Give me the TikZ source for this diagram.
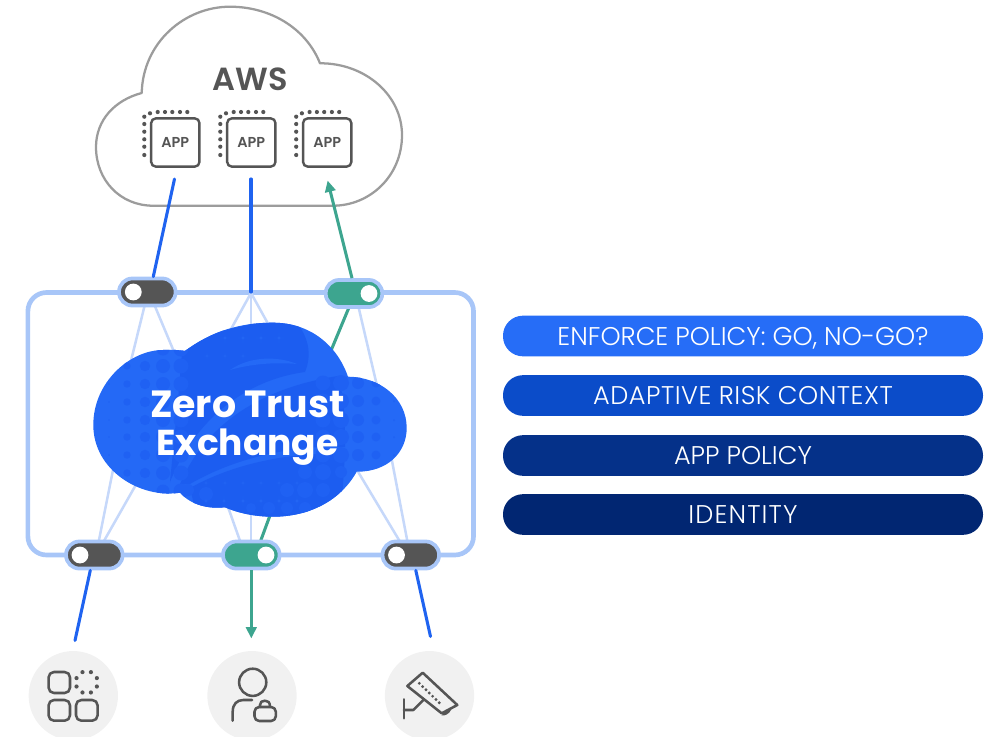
\documentclass[tikz,border=0pt]{standalone}
\usepackage{fontspec}
\setmainfont{Poppins}
\newfontfamily\poplight{Poppins Light}
\newfontfamily\popsemi{Poppins SemiBold}
\usetikzlibrary{arrows.meta,calc}
\definecolor{zblue}{HTML}{1F63F0}
\definecolor{zbluelight}{HTML}{2469F6}
\definecolor{zbluedark}{HTML}{1C5DF0}
\definecolor{zdot}{HTML}{1F61F3}
\definecolor{zstar}{HTML}{2366F4}
\definecolor{zframe}{HTML}{A8C6F8}
\definecolor{zfan}{HTML}{C6D8FA}
\definecolor{zgreen}{HTML}{3DA58F}
\definecolor{zgrey}{HTML}{555555}
\definecolor{zcloud}{HTML}{9C9C9C}
\definecolor{zcirc}{HTML}{F1F1F1}
\definecolor{barA}{HTML}{266DF7}
\definecolor{barB}{HTML}{0B4CC9}
\definecolor{barC}{HTML}{053189}
\definecolor{barD}{HTML}{012672}
\tikzset{
  x=0.75pt,y=-0.75pt,
  bar/.style={rounded corners=15pt,minimum width=360pt,minimum height=30.5pt,inner sep=0pt,text=white,font=\poplight\fontsize{19.2}{20}\selectfont,anchor=center},
  appbox/.style={draw=zgrey,line width=1.8pt,rounded corners=3.5pt,minimum size=36.2pt,inner sep=0pt,text=zgrey,font=\popsemi\fontsize{10.8}{11}\selectfont,fill=white},
  fan/.style={draw=zfan,line width=1.9pt},
  bluelink/.style={draw=zblue,line width=2.3pt,line cap=round},
  greenlink/.style={draw=zgreen,line width=2.3pt},
  greentip/.style={-{Triangle[length=8.5pt,width=7.8pt]}},
  iconline/.style={draw=zgrey,line width=1.9pt,line cap=round,line join=round},
  switchbody/.style={rounded corners=10pt,minimum width=42.4pt,minimum height=20.3pt,inner sep=0pt,draw=zframe,line width=2.8pt},
  knob/.style={circle,fill=white,minimum size=12.6pt,inner sep=0pt},
  iconcirc/.style={circle,fill=zcirc,minimum size=67pt,inner sep=0pt},
}
\newcommand{\bluecloud}{(185,351)
  .. controls (212,331) and (240,322.7) .. (273,322.7)
  .. controls (310,322.7) and (337,345) .. (348,376.7)
  .. controls (380,377) and (406.7,398) .. (406.7,428)
  .. controls (406.7,452) and (388,472) .. (356.7,471.7)
  .. controls (341,500) and (310,516.7) .. (273,516.7)
  .. controls (255,516.7) and (238,513) .. (225,507.3)
  .. controls (210,509) and (192,506) .. (180,492.7)
  .. controls (140,499) and (93.3,470) .. (93.3,425)
  .. controls (93.3,382) and (130,350) .. (163,350)
  .. controls (172,349.5) and (179,350) .. (185,351) -- cycle}
\newcommand{\zstarat}[3]{\fill[zstar] (#1-#3,#2) .. controls (#1,#2) .. (#1,#2-#3) .. controls (#1,#2) .. (#1+#3,#2) .. controls (#1,#2) .. (#1,#2+#3) .. controls (#1,#2) .. cycle;}
\newcommand{\barlabel}[2][0]{\raisebox{0pt}[14.2pt][0pt]{\addfontfeature{LetterSpace=#1}#2}}
\begin{document}
\begin{tikzpicture}
\useasboundingbox (0,0) rectangle (986,736);
\coordinate (tc) at (251,292);
% AWS cloud
\draw[zcloud,line width=1.7pt,line join=round,fill=white]
  (141.7,93) .. controls (143,42) and (185,6.7) .. (230,6.7)
  .. controls (270,6.7) and (306,28) .. (320,63.3)
  .. controls (365,63) and (402,95) .. (402,135)
  .. controls (402,176) and (370,205.7) .. (333,205.7)
  -- (153,205.7)
  .. controls (120,205.7) and (96,180) .. (96,147)
  .. controls (96,120) and (115,100) .. (141.7,93) -- cycle;
\node[text=zgrey,font=\popsemi\fontsize{24}{24}\selectfont] (aws) at (250,79) {AWS};
% apps
\foreach \n/\cx in {a/175.3,b/251.3,c/327.2}{
  \foreach \yy in {116.7,124,131.7,139.3,146.7,155}{
    \fill[zgrey] (\cx-31,\yy) circle[radius=2.1];
  }
  \foreach \xx in {-17.6,-10.3,-3,4.7,12}{
    \fill[zgrey] (\cx+\xx,112) circle[radius=2.1];
  }
  \fill[zgrey] (\cx-25.3,113.3) circle[radius=2.1];
  \node[appbox] (app\n) at (\cx,142.5) {APP};
}
% frame
\draw[zframe,line width=3.5pt,rounded corners=14pt] (27.9,292.5) rectangle (473.5,555);
% fans
\draw[fan] (148,292) -- (125,385);
\draw[fan] (149,292) -- (190,390);
\draw[fan] (251,293) -- (215,358);
\draw[fan] (251,293) -- (251,350);
\draw[fan] (251,293) -- (287,358);
\draw[fan] (355,292) -- (385,420);
\draw[fan] (96,555) -- (118,445);
\draw[fan] (96,555) -- (150,460);
\draw[fan] (245,555) -- (222,490);
\draw[fan] (251,555) -- (251,490);
\draw[fan] (410,555) -- (388,440);
\draw[fan] (408,555) -- (345,450);
% green through the cloud
\draw[greenlink] (350,305) -- (325,365);
\draw[greenlink] (258,548) -- (272,510);
% switches
\node[switchbody,fill=zgrey] (s1) at (147.3,292) {};
\node[switchbody,fill=zgreen] (s2) at (354,293.5) {};
\node[switchbody,fill=zgrey] (s3) at (94.3,555) {};
\node[switchbody,fill=zgreen] (s4) at (251.3,555) {};
\node[switchbody,fill=zgrey] (s5) at (410.8,555) {};
\node[knob] at (133.3,292) {};
\node[knob] at (369,293.5) {};
\node[knob] at (80,555) {};
\node[knob] at (266,555) {};
\node[knob] at (396.5,555) {};
% cloud
\fill[zbluelight] \bluecloud;
\begin{scope}
  \clip \bluecloud;
  % dark regions
  \fill[zbluedark] (183,340) -- (290,315) .. controls (310,335) and (312,355) .. (305,372) .. controls (245,380) and (195,420) .. (170,482) -- (178,400) -- cycle;
  \fill[zbluedark] (180,484) .. controls (205,425) and (260,388) .. (338,376) .. controls (345,400) and (345,425) .. (345,447) .. controls (300,445) and (240,455) .. (190,484) -- cycle;
  \fill[zbluedark] (190,488) .. controls (240,460) and (300,452) .. (345,454) -- (340,530) -- (200,530) -- cycle;
  \fill[zbluelight] (230,370) .. controls (250,356) and (278,356) .. (297,364) .. controls (275,362) and (250,364) .. (230,370) -- cycle;
  % halftone dots, left
  \foreach \x/\r in {109/.8,127/3.7,145/5.2,163/7,181/7.5}{
    \foreach \y in {366,384,402,420,437,455,473}{
      \fill[zdot] (\x,\y) circle[radius=\r];
    }
  }
  \foreach \x/\r in {163/6.5,181/7.5}{\fill[zdot] (\x,349) circle[radius=\r];\fill[zdot] (\x,491) circle[radius=\r];}
  % halftone dots, right
  \foreach \x/\r in {323/7.5,341/8,358/6,376/4.5,394/1}{
    \foreach \y in {383,401,420,437,455}{
      \fill[zdot] (\x,\y) circle[radius=\r];
    }
  }
  % lower dots
  \foreach \x/\y/\r in {323/455/7,341/455/7,305/472/7,323/472/8,341/472/6,287/490/7,305/490/8,323/490/7,269/508/6,287/508/6,305/508/6,251/508/5,206/494/7,188/490/6}{
    \fill[zdot] (\x,\y) circle[radius=\r];
  }
  % stars
  \foreach \x in {225,243,261,279}{\zstarat{\x}{338}{5}}
  \foreach \x in {207,225,243}{\zstarat{\x}{356}{3}}
  \foreach \x in {206,224,243,261,279,297}{\zstarat{\x}{501}{5}}
  \foreach \x in {206,225,243,261,279,297}{\zstarat{\x}{483}{3}}
\end{scope}
\node[align=center,text=white,font=\fontsize{28.4}{28.5}\selectfont\bfseries,inner sep=0pt] (zt) at (247.5,428) {Zero Trust\\{\fontsize{27}{28.5}\selectfont Exchange}};
% blue and green connectors
\coordinate (f1) at (174.5,179);
\coordinate (f2) at (251,179);
\coordinate (f3) at (327.6,180.5);
\draw[bluelink] (f1) -- ($(s1.north)+(6,0)$);
\draw[bluelink] (f2) -- (tc);
\draw[greenlink,greentip] ($(s2.north)+(-2,0)$) -- (f3);
% Icons
\node[iconcirc] (ic1) at (73.3,695.7) {};
\node[iconcirc] (ic2) at (252,695.7) {};
\node[iconcirc] (ic3) at (429.5,695.7) {};
\coordinate (e1) at (75,640.5);
\coordinate (e2) at (251.3,638.5);
\coordinate (e3) at (430.5,636.5);
\draw[bluelink] ($(s3.south)+(-4,0)$) -- (e1);
\draw[greenlink,greentip] (s4.south) -- (e2);
\draw[bluelink] ($(s5.south)+(5,0)$) -- (e3);
% icon 1
\draw[iconline,rounded corners=4pt] (48.6,672) rectangle (70,693);
\draw[iconline,rounded corners=4pt] (48.6,700) rectangle (70,720.7);
\draw[iconline,rounded corners=4pt] (76,700) rectangle (97.6,720.7);
\foreach \a in {22.5,67.5,...,360}{
  \fill[zgrey] ($(86.7,682.3)+(\a:11)$) circle[radius=2.1];
}
% icon 2
\draw[iconline] (252.7,682.3) circle[radius=13.6];
\draw[iconline] (232.7,720.7) -- (232.7,711.7) .. controls (232.7,704) and (237,700) .. (243.3,700) -- (252,700);
\draw[iconline,rounded corners=3.5pt] (254.5,707) rectangle (275.8,721);
\draw[iconline] (260,707) -- (260,705) .. controls (260,702) and (262,700.7) .. (265,700.7) .. controls (268,700.7) and (270,702) .. (270,707);
% icon 3
\draw[iconline] (407.3,686) -- (422.7,672.7) -- (457.3,705) -- (441.7,713.3) -- cycle;
\foreach \t in {0,1,2,3,4,5,6}{
  \fill[zgrey] ($(419.3,683.3)+(\t*3.33,\t*3.23)$) circle[radius=1.6];
}
\draw[iconline] (404,699.3) -- (404,718.3);
\draw[iconline] (404,710) -- (413.3,710) -- (423.3,700);
\fill[zgrey] (441.7,715.5) .. controls (444,711) and (448,709.5) .. (451,710) .. controls (449,714) and (445,716) .. (441.7,715.5) -- cycle;
% bars
\node[bar,fill=barA] (b1) at (743,336) {\barlabel{ENFORCE POLICY: GO, NO-GO?}};
\node[bar,fill=barB] (b2) at (743,395.5) {\barlabel[1.9]{ADAPTIVE RISK CONTEXT}};
\node[bar,fill=barC] (b3) at (743,455.5) {\barlabel{APP POLICY}};
\node[bar,fill=barD] (b4) at (743,514.5) {\barlabel[4.4]{IDENTITY}};
\end{tikzpicture}
\end{document}
